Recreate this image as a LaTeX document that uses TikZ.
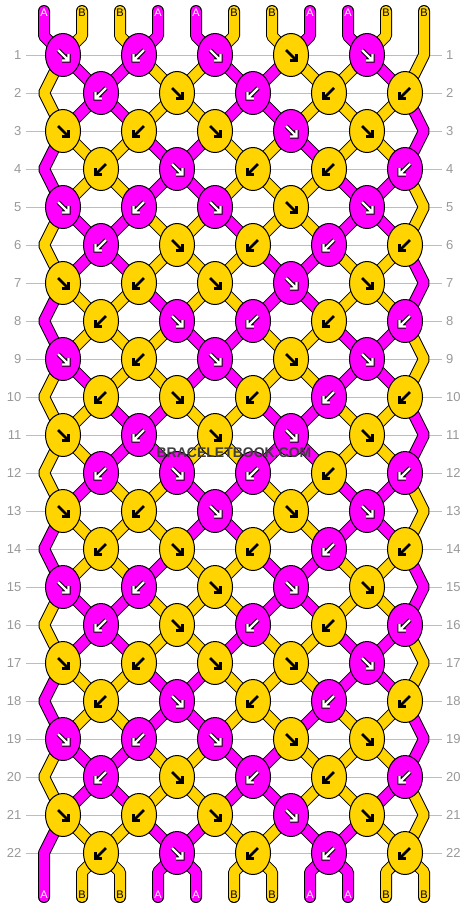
\documentclass[tikz,border=0pt]{standalone}
\usepackage{fontspec}
\setmainfont{Liberation Sans}
\usetikzlibrary{shapes.geometric}
\definecolor{M}{HTML}{FF00FF}
\definecolor{Y}{HTML}{FFD400}
\definecolor{rowgray}{HTML}{BDBDBD}
\definecolor{numgray}{HTML}{999999}
\definecolor{wmdark}{HTML}{3E3E3E}
\newcommand\knotarrow[2]{% #1 = colour, #2 = width
  \draw[#1, line width=#2, line cap=butt, line join=miter]
    (-5,-5) -- (5.5,5.5) (-0.8,5.5) -- (5.5,5.5) -- (5.5,-0.8);}
\begin{document}
\begin{tikzpicture}[x=1pt,y=-1pt,
  knot/.style={ellipse, draw=black, line width=1pt, minimum width=35pt, minimum height=43pt, inner sep=0pt},
  rowline/.style={rowgray, line width=1pt},
  rownum/.style={numgray, font=\fontsize{13}{13}\selectfont, inner sep=0pt},
  endlabel/.style={font=\fontsize{11}{11}\selectfont, inner sep=0pt},
  strout/.style={black, line width=12pt, line cap=round, line join=bevel},
  strin/.style={line width=10pt, line cap=round, line join=bevel},
  wm/.style={font=\bfseries\fontsize{14}{14}\selectfont, inner sep=0pt}
]
\useasboundingbox (0,0) rectangle (468,908);
\fill[white] (0,0) rectangle (468,908);

% row guide lines and numbers
\foreach \r in {1,...,22} {
  \pgfmathsetmacro\yy{55+38*(\r-1)}
  \draw[rowline] (26,\yy) -- (442,\yy);
  \node[rownum, anchor=east] (L\r) at (21.5,\yy) {\r};
  \node[rownum, anchor=west] (R\r) at (446,\yy) {\r};
}

% strings
\foreach \s/\sc in {1/M,2/Y,3/Y,4/M,5/M,6/Y,7/Y,8/M,9/M,10/Y,11/Y} {
  \pgfmathsetmacro\sx{44+38*(\s-1)}
  \xdef\q{\s}
  \xdef\pth{(\sx,11) -- (\sx,36)}
  \foreach \r in {1,...,22} {
    \pgfmathtruncatemacro\pp{ifthenelse(mod(\r,2)==1, ifthenelse(\q==11,11,ifthenelse(mod(\q,2)==1,\q+1,\q-1)), ifthenelse(\q==1,1,ifthenelse(mod(\q,2)==0,\q+1,\q-1)))}
    \pgfmathsetmacro\kx{44+19*(\q+\pp-2)}
    \pgfmathsetmacro\ky{55+38*(\r-1)}
    \xdef\pth{\pth -- (\kx,\ky)}
    \xdef\q{\pp}
  }
  \pgfmathsetmacro\ex{44+38*(\q-1)}
  \xdef\pth{\pth -- (\ex,872) -- (\ex,897)}
  \edef\cmd{\noexpand\draw[strout] \pth; \noexpand\draw[strin, \sc] \pth;}
  \cmd
}

% knots
\foreach \r/\row in {
  1/{M/1,M/-1,M/1,Y/1,M/1},
  2/{M/-1,Y/1,M/-1,Y/-1,Y/-1},
  3/{Y/1,Y/-1,Y/1,M/1,Y/1},
  4/{Y/-1,M/1,Y/-1,Y/-1,M/-1},
  5/{M/1,M/-1,M/1,Y/1,M/1},
  6/{M/-1,Y/1,Y/-1,M/-1,Y/-1},
  7/{Y/1,Y/-1,Y/1,M/1,Y/1},
  8/{Y/-1,M/1,M/-1,Y/-1,M/-1},
  9/{M/1,Y/-1,M/1,Y/1,M/1},
  10/{Y/-1,Y/1,Y/-1,M/-1,Y/-1},
  11/{Y/1,M/-1,Y/1,M/1,Y/1},
  12/{M/-1,M/1,M/-1,Y/-1,M/-1},
  13/{Y/1,Y/-1,M/1,Y/1,M/1},
  14/{Y/-1,Y/1,Y/-1,M/-1,Y/-1},
  15/{M/1,M/-1,Y/1,M/1,Y/1},
  16/{M/-1,Y/1,M/-1,Y/-1,M/-1},
  17/{Y/1,Y/-1,Y/1,Y/1,M/1},
  18/{Y/-1,M/1,Y/-1,M/-1,Y/-1},
  19/{M/1,M/-1,M/1,Y/1,Y/1},
  20/{M/-1,Y/1,M/-1,Y/-1,M/-1},
  21/{Y/1,Y/-1,Y/1,M/1,Y/1},
  22/{Y/-1,M/1,Y/-1,M/-1,Y/-1}} {
  \pgfmathsetmacro\ky{55+38*(\r-1)}
  \pgfmathsetmacro\off{mod(\r,2)==1 ? 63 : 101}
  \foreach \kc/\kd [count=\c] in \row {
    \pgfmathsetmacro\kx{\off+76*(\c-1)}
    \node[knot, fill=\kc] (k\r-\c) at (\kx,\ky) {};
    \begin{scope}[shift={(k\r-\c.center)}, xscale=\kd]
      \if\kc M%
        \knotarrow{black}{4.4pt}
        \knotarrow{white}{2.4pt}
      \else
        \knotarrow{black}{2.8pt}
      \fi
    \end{scope}
  }
}

% end labels
\foreach \l [count=\p] in {A,B,B,A,A,B,B,A,A,B,B} {
  \pgfmathsetmacro\lx{44+38*(\p-1)}
  \if\l A\def\lc{white}\else\def\lc{black}\fi
  \node[endlabel, text=\lc] (t\p) at (\lx,13) {\l};
  \node[endlabel, text=\lc] (b\p) at (\lx,895) {\l};
}

% watermark
\node[wm, text=wmdark] (wm) at (234,453) {BRACELETBOOK.COM};
\end{tikzpicture}
\end{document}
